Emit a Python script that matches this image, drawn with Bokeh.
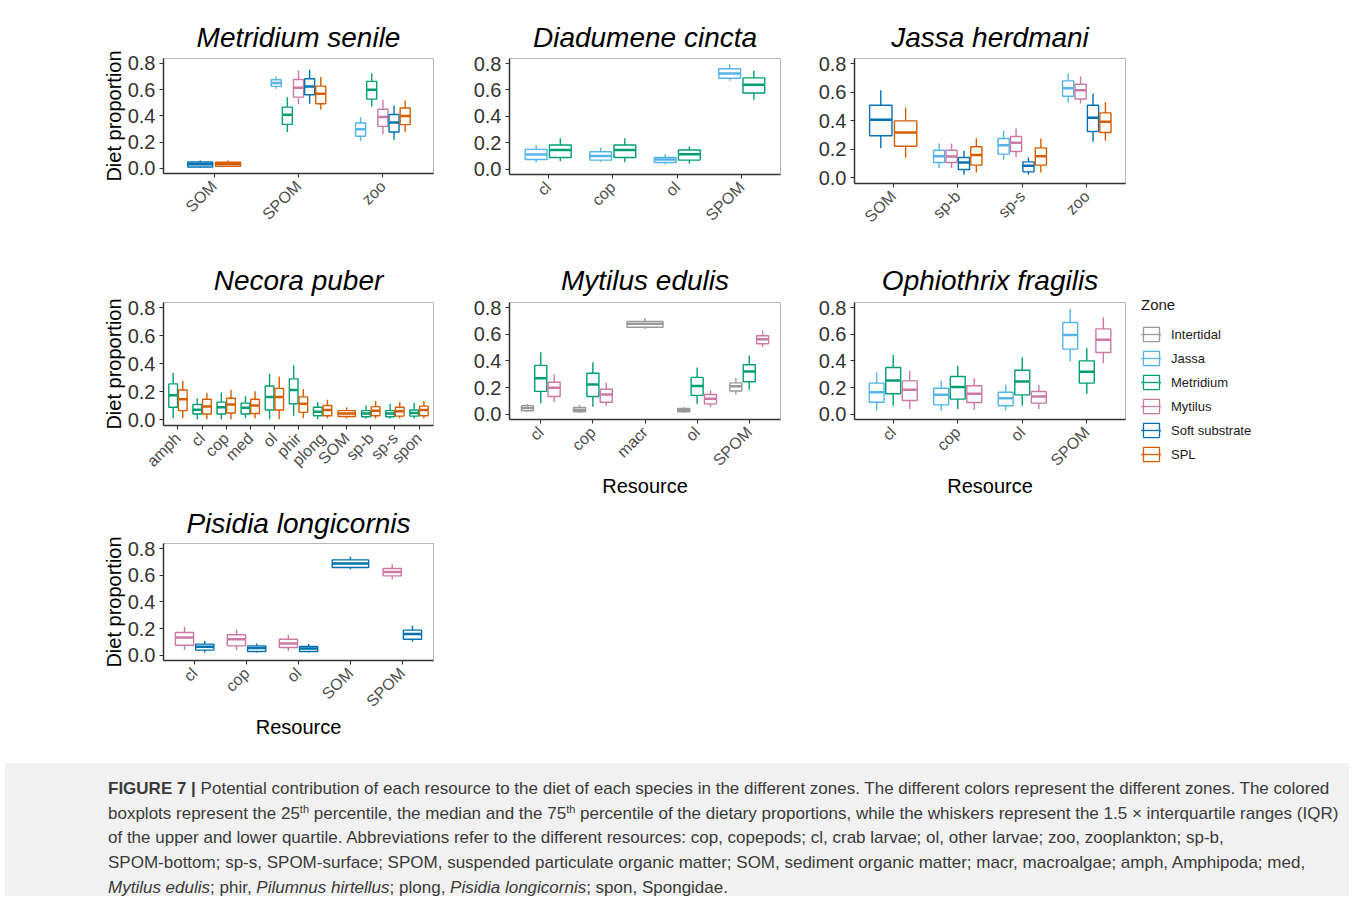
import math
from bokeh.plotting import figure
from bokeh.models import (Range1d, FixedTicker, NumeralTickFormatter, Legend,
                          LegendItem, Div, Spacer, ColumnDataSource)
from bokeh.layouts import column, row
from bokeh.embed import file_html
from bokeh.resources import INLINE

FONT = "Liberation Sans"

# ---------------- data ----------------
ZONES = ["Intertidal", "Jassa", "Metridium", "Mytilus", "Soft substrate", "SPL"]
ZONE_COLORS = ["#999999", "#56B4E9", "#009E73", "#CC79A7", "#0072B2", "#D55E00"]
Y_TICKS = [0.0, 0.2, 0.4, 0.6, 0.8]

# each box: [lower whisker, q1, median, q3, upper whisker]
ms_resources = ["SOM", "SPOM", "zoo"]
ms_jassa = [None, [0.607, 0.625, 0.650, 0.676, 0.700], [0.208, 0.244, 0.297, 0.345, 0.391]]
ms_metridium = [None, [0.277, 0.335, 0.409, 0.467, 0.543], [0.472, 0.528, 0.599, 0.663, 0.726]]
ms_mytilus = [None, [0.488, 0.543, 0.615, 0.678, 0.747], [0.259, 0.320, 0.391, 0.450, 0.523]]
ms_soft = [[0.003, 0.010, 0.030, 0.048, 0.060], [0.493, 0.561, 0.625, 0.683, 0.752], [0.218, 0.277, 0.350, 0.411, 0.480]]
ms_spl = [[0.010, 0.015, 0.033, 0.046, 0.060], [0.447, 0.493, 0.569, 0.627, 0.696], [0.277, 0.333, 0.399, 0.460, 0.518]]

dc_resources = ["cl", "cop", "ol", "SPOM"]
dc_jassa = [[0.051, 0.074, 0.112, 0.150, 0.183], [0.056, 0.069, 0.100, 0.132, 0.165],
            [0.036, 0.051, 0.074, 0.089, 0.114], [0.670, 0.688, 0.724, 0.760, 0.795]]
dc_metridium = [[0.061, 0.089, 0.145, 0.183, 0.234], [0.053, 0.089, 0.145, 0.183, 0.234],
                [0.043, 0.069, 0.114, 0.145, 0.170], [0.526, 0.577, 0.640, 0.691, 0.747]]

jh_resources = ["SOM", "sp-b", "sp-s", "zoo"]
jh_jassa = [None, [0.068, 0.108, 0.152, 0.194, 0.241], [0.126, 0.166, 0.229, 0.276, 0.330], [0.529, 0.573, 0.629, 0.681, 0.732]]
jh_mytilus = [None, [0.068, 0.108, 0.150, 0.194, 0.241], [0.145, 0.185, 0.246, 0.290, 0.346], [0.522, 0.554, 0.615, 0.657, 0.711]]
jh_soft = [[0.208, 0.295, 0.407, 0.510, 0.615], [0.021, 0.058, 0.108, 0.143, 0.190],
           [0.021, 0.042, 0.084, 0.112, 0.143], [0.253, 0.325, 0.421, 0.510, 0.592]]
jh_spl = [[0.143, 0.222, 0.318, 0.400, 0.494], [0.037, 0.089, 0.161, 0.218, 0.278],
          [0.037, 0.089, 0.152, 0.210, 0.276], [0.260, 0.318, 0.393, 0.456, 0.533]]

np_resources = ["amph", "cl", "cop", "med", "ol", "phir", "plong", "SOM", "sp-b", "sp-s", "spon"]
np_metridium = [[0.012, 0.090, 0.176, 0.257, 0.335], [0.005, 0.042, 0.073, 0.110, 0.152],
                [0.005, 0.042, 0.090, 0.127, 0.196], [0.012, 0.042, 0.086, 0.120, 0.169],
                [0.005, 0.071, 0.164, 0.242, 0.330], [0.030, 0.115, 0.213, 0.293, 0.390],
                [0.005, 0.030, 0.059, 0.090, 0.127], None,
                [0.010, 0.022, 0.046, 0.066, 0.103], [0.010, 0.022, 0.046, 0.066, 0.115],
                [0.010, 0.027, 0.049, 0.071, 0.120]]
np_spl = [[0.012, 0.066, 0.147, 0.213, 0.279], [0.005, 0.042, 0.095, 0.147, 0.193],
          [0.005, 0.049, 0.110, 0.154, 0.213], [0.012, 0.046, 0.103, 0.147, 0.205],
          [0.005, 0.071, 0.164, 0.225, 0.310], [0.012, 0.054, 0.115, 0.164, 0.218],
          [0.012, 0.030, 0.071, 0.103, 0.144], [0.012, 0.024, 0.046, 0.066, 0.090],
          [0.010, 0.030, 0.066, 0.095, 0.134], [0.010, 0.027, 0.061, 0.090, 0.127],
          [0.010, 0.030, 0.071, 0.098, 0.134]]

me_resources = ["cl", "cop", "macr", "ol", "SPOM"]
me_intertidal = [[0.020, 0.026, 0.046, 0.064, 0.077], [0.013, 0.018, 0.033, 0.051, 0.069],
                 [0.639, 0.652, 0.678, 0.696, 0.721], [0.013, 0.018, 0.031, 0.043, 0.051],
                 [0.146, 0.174, 0.210, 0.235, 0.274]]
me_metridium = [[0.082, 0.171, 0.269, 0.366, 0.465], [0.056, 0.133, 0.222, 0.307, 0.389], None,
                [0.077, 0.141, 0.212, 0.276, 0.350], [0.184, 0.243, 0.320, 0.371, 0.440]]
me_mytilus = [[0.090, 0.133, 0.199, 0.240, 0.299], [0.064, 0.090, 0.148, 0.187, 0.235], None,
              [0.051, 0.077, 0.115, 0.148, 0.179], [0.504, 0.529, 0.563, 0.588, 0.627]]

of_resources = ["cl", "cop", "ol", "SPOM"]
of_jassa = [[0.028, 0.090, 0.165, 0.233, 0.313], [0.028, 0.070, 0.145, 0.195, 0.250],
            [0.028, 0.063, 0.120, 0.165, 0.220], [0.395, 0.488, 0.595, 0.688, 0.790]]
of_metridium = [[0.063, 0.153, 0.253, 0.350, 0.445], [0.038, 0.113, 0.203, 0.283, 0.363],
                [0.063, 0.145, 0.245, 0.330, 0.428], [0.153, 0.233, 0.318, 0.400, 0.495]]
of_mytilus = [[0.038, 0.103, 0.183, 0.250, 0.325], [0.033, 0.088, 0.153, 0.213, 0.270],
              [0.038, 0.083, 0.133, 0.170, 0.220], [0.383, 0.463, 0.558, 0.640, 0.728]]

pl_resources = ["cl", "cop", "ol", "SOM", "SPOM"]
pl_mytilus = [[0.038, 0.075, 0.133, 0.170, 0.213], [0.038, 0.070, 0.120, 0.153, 0.190],
              [0.033, 0.058, 0.088, 0.120, 0.153], None, [0.570, 0.595, 0.625, 0.650, 0.683]]
pl_soft = [[0.020, 0.038, 0.063, 0.083, 0.108], [0.020, 0.028, 0.053, 0.070, 0.088],
           [0.020, 0.028, 0.050, 0.065, 0.083], [0.645, 0.658, 0.688, 0.715, 0.738],
           [0.100, 0.120, 0.158, 0.188, 0.220]]

SUP = '<sup style="font-size:11px;line-height:0;vertical-align:6px;">th</sup>'
CAPTION = (
    "<b>FIGURE 7 |</b> Potential contribution of each resource to the diet of each species in the "
    "different zones. The different colors represent the different zones. The colored<br>"
    "boxplots represent the 25" + SUP + " percentile, the median and the 75" + SUP + " percentile "
    "of the dietary proportions, while the whiskers represent the 1.5 &times; interquartile ranges (IQR)<br>"
    "of the upper and lower quartile. Abbreviations refer to the different resources: cop, copepods; "
    "cl, crab larvae; ol, other larvae; zoo, zooplankton; sp-b,<br>"
    "SPOM-bottom; sp-s, SPOM-surface; SPOM, suspended particulate organic matter; SOM, sediment "
    "organic matter; macr, macroalgae; amph, Amphipoda; med,<br>"
    "<i>Mytilus edulis</i>; phir, <i>Pilumnus hirtellus</i>; plong, <i>Pisidia longicornis</i>; "
    "spon, Spongidae."
)

Y_LO, Y_HI = -0.04, 0.838


def build_panel(title, resources, series, frame_w, frame_h, bl, bt, br, bb,
                dodge_w, y_label=None, x_label=None, title_gap=10):
    n_cat = len(resources)
    p = figure(frame_width=frame_w, frame_height=frame_h,
               min_border_left=bl, min_border_top=bt, min_border_right=br, min_border_bottom=bb,
               x_range=Range1d(0.4, n_cat + 0.6), y_range=Range1d(Y_LO, Y_HI),
               output_backend="svg", toolbar_location=None, title=title)
    p.background_fill_color = "white"
    p.border_fill_color = "white"
    p.outline_line_color = "#b8b8b8"
    p.outline_line_width = 1
    p.xgrid.visible = False
    p.ygrid.visible = False

    counts = [sum(1 for _, s in series if s[ci] is not None) for ci in range(n_cat)]
    slot_index = [0] * n_cat
    for zone, stats in series:
        color = ZONE_COLORS[ZONES.index(zone)]
        d = dict(xc=[], left=[], right=[], lw=[], q1=[], med=[], q3=[], uw=[])
        for ci, st in enumerate(stats):
            if st is None:
                continue
            n = counts[ci]
            slot = dodge_w / n
            k = slot_index[ci]
            slot_index[ci] += 1
            xc = (ci + 1) - dodge_w / 2 + slot * (k + 0.5)
            half = slot * 0.9 / 2
            d["xc"].append(xc)
            d["left"].append(xc - half)
            d["right"].append(xc + half)
            d["lw"].append(st[0]); d["q1"].append(st[1]); d["med"].append(st[2])
            d["q3"].append(st[3]); d["uw"].append(st[4])
        src = ColumnDataSource(d)
        p.segment(x0="xc", y0="lw", x1="xc", y1="q1", source=src, line_color=color, line_width=1.4)
        p.segment(x0="xc", y0="q3", x1="xc", y1="uw", source=src, line_color=color, line_width=1.4)
        p.quad(left="left", right="right", bottom="q1", top="q3", source=src,
               fill_color="white", line_color=color, line_width=1.4)
        p.segment(x0="left", y0="med", x1="right", y1="med", source=src,
                  line_color=color, line_width=2.5)

    p.title.text_font = FONT
    p.title.text_font_size = "28px"
    p.title.text_font_style = "italic"
    p.title.text_color = "#000000"
    p.title.align = "center"
    p.title.standoff = title_gap

    for ax in (p.xaxis[0], p.yaxis[0]):
        ax.axis_line_color = "#333333"
        ax.axis_line_width = 1.5
        ax.major_tick_line_color = "#333333"
        ax.major_tick_line_width = 1.1
        ax.major_tick_out = 4
        ax.major_tick_in = 0
        ax.minor_tick_line_color = None
        ax.axis_label_text_font = FONT
        ax.axis_label_text_font_style = "normal"
        ax.axis_label_text_font_size = "20px"
        ax.axis_label_text_color = "#000000"

    xa = p.xaxis[0]
    xa.ticker = FixedTicker(ticks=list(range(1, n_cat + 1)))
    xa.major_label_overrides = {i + 1: r for i, r in enumerate(resources)}
    xa.major_label_orientation = math.pi / 4
    xa.major_label_text_font = FONT
    xa.major_label_text_font_size = "16px"
    xa.major_label_text_color = "#4d4d4d"
    xa.major_label_standoff = 6
    if x_label:
        xa.axis_label = x_label
        xa.axis_label_standoff = -3

    ya = p.yaxis[0]
    ya.ticker = FixedTicker(ticks=Y_TICKS)
    ya.formatter = NumeralTickFormatter(format="0.0")
    ya.major_label_text_font = FONT
    ya.major_label_text_font_size = "20px"
    ya.major_label_text_color = "#333333"
    ya.major_label_standoff = 4
    if y_label:
        ya.axis_label = y_label
        ya.axis_label_standoff = 0
    return p


p1 = build_panel("Metridium senile", ms_resources,
                 [("Jassa", ms_jassa), ("Metridium", ms_metridium), ("Mytilus", ms_mytilus),
                  ("Soft substrate", ms_soft), ("SPL", ms_spl)],
                 270, 115, 155, 50, 17, 82, 0.66, y_label="Diet proportion", title_gap=11)
p2 = build_panel("Diadumene cincta", dc_resources,
                 [("Jassa", dc_jassa), ("Metridium", dc_metridium)],
                 271, 116, 59, 50, 15, 81, 0.75, title_gap=11)
p3 = build_panel("Jassa herdmani", jh_resources,
                 [("Jassa", jh_jassa), ("Mytilus", jh_mytilus), ("Soft substrate", jh_soft), ("SPL", jh_spl)],
                 271, 125, 59, 50, 219, 72, 0.77, title_gap=11)

p4 = build_panel("Necora puber", np_resources,
                 [("Metridium", np_metridium), ("SPL", np_spl)],
                 270, 123, 155, 47, 17, 75, 0.8, y_label="Diet proportion", title_gap=13)
p5 = build_panel("Mytilus edulis", me_resources,
                 [("Intertidal", me_intertidal), ("Metridium", me_metridium), ("Mytilus", me_mytilus)],
                 271, 117, 59, 46, 15, 82, 0.77, x_label="Resource", title_gap=13)
p6 = build_panel("Ophiothrix fragilis", of_resources,
                 [("Jassa", of_jassa), ("Metridium", of_metridium), ("Mytilus", of_mytilus)],
                 271, 117, 59, 46, 13, 82, 0.77, x_label="Resource", title_gap=13)

p7 = build_panel("Pisidia longicornis", pl_resources,
                 [("Mytilus", pl_mytilus), ("Soft substrate", pl_soft)],
                 270, 117, 155, 42, 17, 95, 0.78, y_label="Diet proportion", x_label="Resource",
                 title_gap=10)

# legend (Zone) in its own small figure next to the Ophiothrix panel
leg_fig = figure(frame_width=203, frame_height=200, min_border_left=3, min_border_top=41,
                 min_border_right=0, min_border_bottom=0, toolbar_location=None,
                 output_backend="svg", x_range=Range1d(0, 1), y_range=Range1d(0, 1))
leg_fig.axis.visible = False
leg_fig.grid.visible = False
leg_fig.outline_line_color = None
leg_fig.background_fill_alpha = 0
leg_fig.border_fill_alpha = 0
items = []
for zone, color in zip(ZONES, ZONE_COLORS):
    r_wh = leg_fig.vspan(x=[-5], line_color=color, line_width=1.3)
    r_box = leg_fig.rect(x=[-5], y=[-5], width=0.1, height=0.1, fill_color="white",
                         line_color=color, line_width=1.3)
    r_med = leg_fig.line(x=[-5, -6], y=[-5, -5], line_color=color, line_width=1.3)
    items.append(LegendItem(label=zone, renderers=[r_wh, r_box, r_med]))
legend = Legend(items=items, location="top_left", title="Zone",
                title_text_font=FONT, title_text_font_size="15px", title_text_font_style="normal",
                title_text_color="#1a1a1a", title_standoff=12,
                label_text_font=FONT, label_text_font_size="13px", label_text_color="#1a1a1a",
                glyph_width=20, glyph_height=18, label_height=18, spacing=6, padding=0, margin=0,
                label_standoff=10, border_line_color=None, background_fill_alpha=0)
leg_fig.add_layout(legend)

caption = Div(text=(
    '<div style="background:#f1f1f1;width:1344px;height:133px;box-sizing:border-box;'
    'padding:14px 0 0 103px;font-family:\'Liberation Sans\',Arial,sans-serif;font-size:17px;'
    'line-height:24.7px;color:#3a3a3a;white-space:nowrap;">' + CAPTION + '</div>'),
    width=1344, height=133)

row2_main = row(Spacer(width=8), p4, p5, p6)
layout = column(
    Spacer(height=8),
    row(Spacer(width=8), p1, p2, p3),
    row(row2_main, column(leg_fig)),
    row(Spacer(width=8), p7),
    Spacer(height=3),
    caption,
)

open("out.html", "w").write(file_html(layout, INLINE))
